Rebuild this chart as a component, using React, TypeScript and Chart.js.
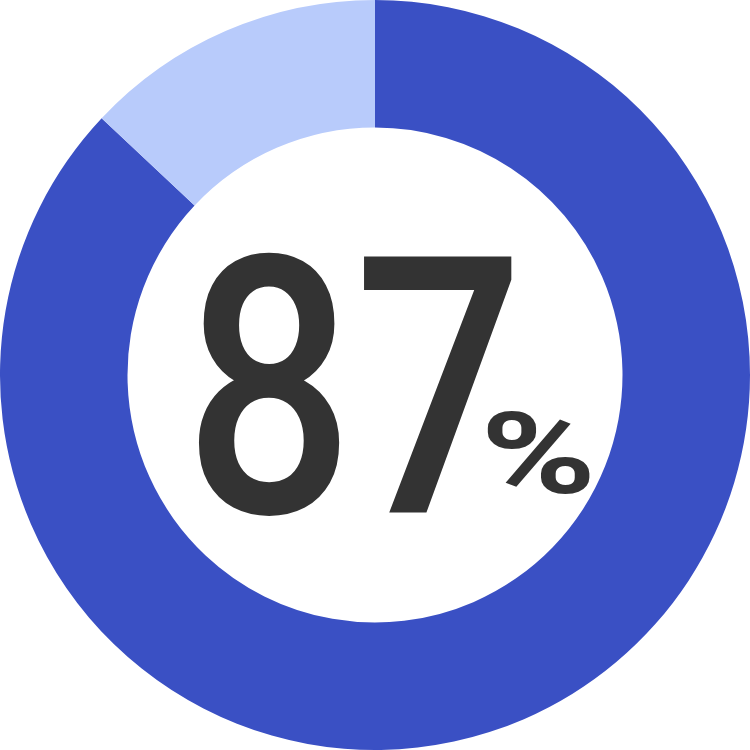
import React, { useEffect, useRef } from 'react';
import Chart from 'chart.js/auto';

const labels = ['達成', '未達成'];
const values = [87, 13];
const colors = ['#3a50c4', '#b8cbfb'];
const centerNumber = '87';
const centerUnit = '%';

// draws text stretched so its ink fills the given box
const fitText = (ctx: CanvasRenderingContext2D, text: string, font: string, x0: number, y0: number, x1: number, y1: number) => {
  ctx.save();
  ctx.font = font;
  ctx.textAlign = 'left';
  ctx.textBaseline = 'alphabetic';
  const m = ctx.measureText(text);
  const w = m.actualBoundingBoxLeft + m.actualBoundingBoxRight;
  const h = m.actualBoundingBoxAscent + m.actualBoundingBoxDescent;
  const sx = (x1 - x0) / w;
  const sy = (y1 - y0) / h;
  ctx.translate(x0, y0);
  ctx.scale(sx, sy);
  ctx.fillText(text, m.actualBoundingBoxLeft, m.actualBoundingBoxAscent);
  ctx.restore();
};

const centerText = {
  id: 'centerText',
  afterDraw(chart: any) {
    const ctx = chart.ctx as CanvasRenderingContext2D;
    ctx.fillStyle = '#333333';
    fitText(ctx, centerNumber, '500 370px Roboto', 198, 248, 513, 518);
    fitText(ctx, centerUnit, '700 120px Roboto', 487, 411, 590, 494);
  },
};

const DonutChart: React.FC<{ width?: number; height?: number }> = ({ width = 750, height = 750 }) => {
  const chartRef = useRef<HTMLCanvasElement>(null);
  const chartInstance = useRef<Chart | null>(null);

  useEffect(() => {
    if (chartInstance.current) {
      chartInstance.current.destroy();
    }
    if (chartRef.current) {
      const ctx = chartRef.current.getContext('2d');
      if (ctx) {
        // @ts-ignore
        chartInstance.current = new Chart(ctx, {
          type: 'doughnut',
          data: {
            labels: labels,
            datasets: [
              {
                data: values,
                backgroundColor: colors,
                borderWidth: 0,
              },
            ],
          },
          options: {
            animation: false,
            responsive: false,
            cutout: '66%',
            layout: { padding: 0 },
            plugins: {
              legend: { display: false },
              tooltip: { enabled: false },
            },
          },
          plugins: [centerText],
        });
      }
    }
    return () => {
      if (chartInstance.current) {
        chartInstance.current.destroy();
      }
    };
  }, [width, height]);

  return <canvas ref={chartRef} width={width} height={height} style={{ width, height, display: 'block' }}></canvas>;
};

export default function App() {
  return (
    <div style={{ position: 'fixed', left: 0, top: 0, width: 750, height: 750, background: '#fff' }}>
      <DonutChart />
    </div>
  );
}
